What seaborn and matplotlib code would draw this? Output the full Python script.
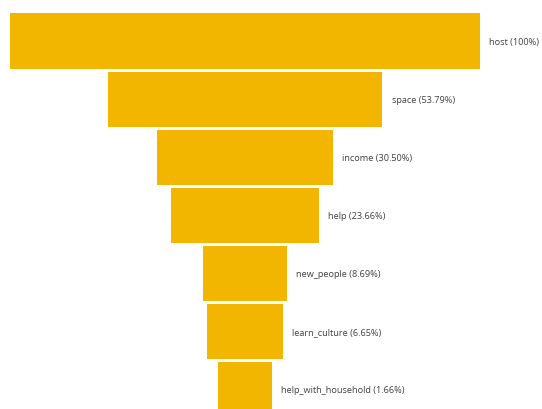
import matplotlib
matplotlib.use("Agg")
import matplotlib.pyplot as plt
import seaborn as sns
import pandas as pd

# Funnel stages and share of respondents at each stage (%)
stages = ["host", "space", "income", "help", "new_people", "learn_culture",
          "help_with_household"]
percent = [100, 53.79, 30.50, 23.66, 8.69, 6.65, 1.66]

BAR_COLOR = "#F2B500"
MIN_WIDTH = 11.1  # every funnel bar keeps a minimum width so small stages stay visible

df = pd.DataFrame({"stage": stages, "percent": percent})
df["width"] = df["percent"] + MIN_WIDTH

sns.set_theme(style="white")
plt.rcParams["font.family"] = ["Open Sans", "DejaVu Sans"]

fig = plt.figure(figsize=(5.42, 4.10), dpi=100)
ax = fig.add_axes([0, 0, 1, 1])

sns.barplot(data=df, x="width", y="stage", orient="h", color=BAR_COLOR,
            width=0.95, saturation=1, linewidth=0, ax=ax)

# centre each bar on zero to get the funnel shape
for patch in ax.patches:
    patch.set_x(-patch.get_width() / 2)

for i, (name, p, w) in enumerate(zip(df["stage"], df["percent"], df["width"])):
    pct = f"{p:.0f}" if p == 100 else f"{p:.2f}"
    ax.annotate(f"{name} ({pct}%)", xy=(w / 2, i), xytext=(6.8, 0),
                textcoords="offset points", ha="left", va="center",
                fontsize=6.6, color="#404040")

ax.set_xlim(-57.9, 70.2)
ax.set_ylim(6.334, -0.723)
ax.set_axis_off()

fig.savefig("out.png", dpi=100, facecolor="white")
